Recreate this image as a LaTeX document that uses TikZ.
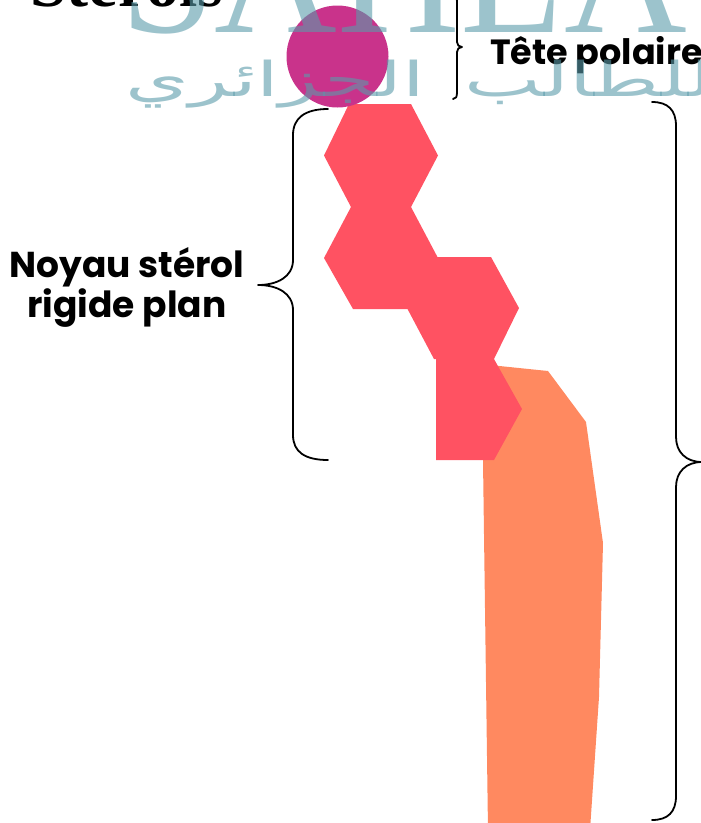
\documentclass[tikz,border=0pt]{standalone}
\usepackage{fontspec}
\setmainfont{Liberation Serif}
\newfontfamily\labfont{Poppins}
\newfontfamily\arabicfont[Script=Arabic]{DejaVu Sans}
\TeXXeTstate=1
\definecolor{hexred}{RGB}{255,82,98}
\definecolor{tailorange}{RGB}{255,137,96}
\definecolor{headmagenta}{RGB}{201,51,139}
\definecolor{wmteal}{RGB}{90,155,170}
\begin{document}
\begin{tikzpicture}[x=1pt,y=-1pt,
  bracestroke/.style={line width=1.8pt, line cap=round, line join=round, black},
  ringshape/.style={fill=hexred, draw=none},
  tailshape/.style={fill=tailorange, draw=none},
  headshape/.style={fill=headmagenta, draw=none},
  partlabel/.style={inner sep=0pt, font=\labfont\bfseries\fontsize{36}{36}\selectfont},
  wmark/.style={inner sep=0pt, text=wmteal, text opacity=0.6}
]
\useasboundingbox (0,0) rectangle (701,823);
\clip (0,0) rectangle (701,823);

% title, cut by the top edge
\node[inner sep=0pt, anchor=base west, font=\bfseries\fontsize{66}{66}\selectfont] (title) at (30,6) {Stérols};

% hydrocarbon tail
\fill[tailshape] (480,364) -- (548,371) -- (586,422) -- (603,543) -- (599,697)
  -- (590,830) -- (488,830) -- (483,460) -- cycle;

% sterol rings
\fill[ringshape] (324,155.5) -- (349,104) -- (411,104) -- (438,155.5) -- (411,207) -- (351,207) -- cycle;
\fill[ringshape] (324,258) -- (351,207) -- (411,207) -- (438,258) -- (409,309) -- (353,309) -- cycle;
\fill[ringshape] (407,308) -- (437,257) -- (491,257) -- (519,308) -- (494,359) -- (434,359) -- cycle;
\fill[ringshape] (436,359) -- (494,359) -- (522,409) -- (494,460) -- (436,460) -- cycle;

% polar head
\fill[headshape] (337.5,56.5) circle[radius=51];

% braces
\draw[bracestroke] (453,-5) .. controls (456,-5) and (457,-3) .. (457,2) -- (457,42)
  .. controls (457,45) and (459,47) .. (462,47) .. controls (459,47) and (457,49) .. (457,52)
  -- (457,92) .. controls (457,97) and (456,99) .. (453,99);
\draw[bracestroke] (328,109) .. controls (305,109) and (293,118) .. (293,135) -- (293,260)
  .. controls (293,277) and (277,285) .. (258,285) .. controls (277,285) and (293,293) .. (293,310)
  -- (293,435) .. controls (293,452) and (305,460) .. (328,460);
\draw[bracestroke] (652,102) .. controls (668,102) and (676,110) .. (676,126) -- (676,437)
  .. controls (676,452) and (686,462) .. (702,462) .. controls (686,462) and (676,472) .. (676,487)
  -- (676,796) .. controls (676,812) and (668,820) .. (652,820);

% labels
\node[partlabel, anchor=base west, font=\labfont\bfseries\fontsize{35}{35}\selectfont] (head) at (490,64) {Tête polaire};
\node[partlabel, anchor=base] (coreA) at (127,277) {Noyau stérol};
\node[partlabel, anchor=base] (coreB) at (127,317) {rigide plan};

% watermark
\node[wmark, anchor=base west, font=\fontsize{170}{170}\selectfont] (wmLatin) at (120,32) {SAHLA MAHLA};
\node[wmark, anchor=base west, xscale=1.7, transform shape, font=\arabicfont\fontsize{48}{48}\selectfont] (wmArabic) at (125,96) {\beginR للطالب\hspace{8pt} الجزائري\endR};
\end{tikzpicture}
\end{document}
